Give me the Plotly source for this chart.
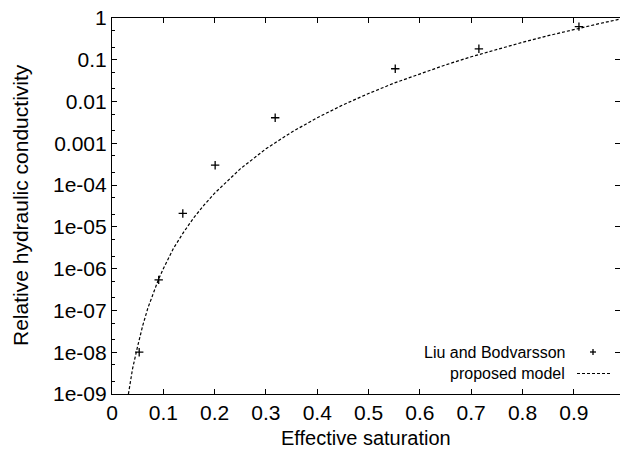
import plotly.graph_objects as go

# Data points (Liu and Bodvarsson)
sat_points = [0.053, 0.091, 0.138, 0.201, 0.318, 0.552, 0.715, 0.91, 1.0]
kr_points = [1.0e-8, 5.4e-7, 2.1e-5, 3.0e-4, 4.1e-3, 0.061, 0.183, 0.62, 1.0]

# Proposed model curve
sat_model = [0.032, 0.04, 0.05, 0.06, 0.07, 0.08, 0.09, 0.10, 0.12, 0.14, 0.16,
             0.18, 0.20, 0.25, 0.30, 0.35, 0.40, 0.45, 0.50, 0.55, 0.60, 0.65,
             0.70, 0.75, 0.80, 0.85, 0.90, 0.95, 1.00]
kr_model = [1.0e-9, 4.0e-9, 1.4e-8, 4.4e-8, 1.15e-7, 2.6e-7, 5.3e-7, 1.0e-6, 3.1e-6,
            7.6e-6, 1.7e-5, 3.4e-5, 6.4e-5, 2.45e-4, 7.4e-4, 1.85e-3, 4.1e-3, 8.3e-3,
            0.0156, 0.0277, 0.0467, 0.0754, 0.118, 0.178, 0.262, 0.377, 0.531, 0.735, 1.0]

y_tickvals = [1e-9, 1e-8, 1e-7, 1e-6, 1e-5, 1e-4, 1e-3, 1e-2, 1e-1, 1]
y_ticktext = ["1e-09", "1e-08", "1e-07", "1e-06", "1e-05", "1e-04", "0.001", "0.01", "0.1", "1"]
x_tickvals = [0, 0.1, 0.2, 0.3, 0.4, 0.5, 0.6, 0.7, 0.8, 0.9, 1.0]
x_ticktext = ["0", "0.1", "0.2", "0.3", "0.4", "0.5", "0.6", "0.7", "0.8", "0.9", "1"]

FONT = "Liberation Sans, Arial, sans-serif"
W, H = 621, 452
L, R, T, B = 112, 1, 18, 58
PW, PH = W - L - R, H - T - B

def px(x):
    return (x - L) / PW

def py(y):
    return (H - B - y) / PH

fig = go.Figure()
fig.add_trace(go.Scatter(
    x=sat_model, y=kr_model, mode="lines",
    line=dict(color="black", width=1.2, dash="3px,2px"),
    showlegend=False,
))
fig.add_trace(go.Scatter(
    x=sat_points, y=kr_points, mode="markers",
    marker=dict(symbol="cross-thin", size=6, line=dict(color="black", width=1.3)),
    showlegend=False,
))
# invisible trace for right-side mirrored ticks
fig.add_trace(go.Scatter(x=[None], y=[None], yaxis="y2", showlegend=False))

fig.update_layout(
    width=W, height=H,
    margin=dict(l=L, r=R, t=T, b=B),
    paper_bgcolor="white", plot_bgcolor="white",
    font=dict(family=FONT, color="black"),
    xaxis=dict(
        range=[0, 0.99], tickvals=x_tickvals, ticktext=x_ticktext,
        ticks="inside", ticklen=5, tickwidth=1, tickcolor="black",
        showline=True, linecolor="black", linewidth=1.2, mirror="ticks",
        showgrid=False, zeroline=False,
        tickfont=dict(size=21, family=FONT),
    ),
    yaxis=dict(
        type="log", range=[-9, 0], tickvals=y_tickvals, ticktext=y_ticktext,
        ticks="inside", ticklen=5, tickwidth=1, tickcolor="black",
        showline=True, linecolor="black", linewidth=1.2, mirror=False,
        showgrid=False, zeroline=False, ticklabelstandoff=0,
        tickfont=dict(size=21, family=FONT),
        minor=dict(ticks="inside", ticklen=3, tickcolor="black", dtick="D2", showgrid=False),
    ),
    yaxis2=dict(
        type="log", range=[-9, 0], overlaying="y", side="right",
        tickvals=y_tickvals, showticklabels=False,
        ticks="inside", ticklen=5, tickwidth=1, tickcolor="black",
        showline=False, showgrid=False, zeroline=False,
    ),
)

annotations = [
    dict(text="Effective saturation", xref="paper", yref="paper",
         x=px(366), y=py(438), xanchor="center", yanchor="middle",
         showarrow=False, font=dict(size=20, family=FONT)),
    dict(text="Relative hydraulic conductivity", xref="paper", yref="paper",
         x=px(20), y=py(205), xanchor="center", yanchor="middle", textangle=-90,
         showarrow=False, font=dict(size=21, family=FONT)),
    dict(text="Liu and Bodvarsson", xref="paper", yref="paper",
         x=px(567), y=py(352), xanchor="right", yanchor="middle",
         showarrow=False, font=dict(size=16, family=FONT)),
    dict(text="proposed model", xref="paper", yref="paper",
         x=px(567), y=py(373.5), xanchor="right", yanchor="middle",
         showarrow=False, font=dict(size=16, family=FONT)),
]
fig.update_layout(annotations=annotations)

shapes = [
    dict(type="line", xref="paper", yref="paper",
         x0=px(590), x1=px(596), y0=py(352), y1=py(352),
         line=dict(color="black", width=1.3)),
    dict(type="line", xref="paper", yref="paper",
         x0=px(593), x1=px(593), y0=py(349), y1=py(355),
         line=dict(color="black", width=1.3)),
    dict(type="line", xref="paper", yref="paper",
         x0=px(577), x1=px(611), y0=py(373.5), y1=py(373.5),
         line=dict(color="black", width=1.2, dash="3px,2px")),
]
fig.update_layout(shapes=shapes)

fig.write_html("out.html", config={"displayModeBar": False},
               post_script="document.body.style.margin='0';")
